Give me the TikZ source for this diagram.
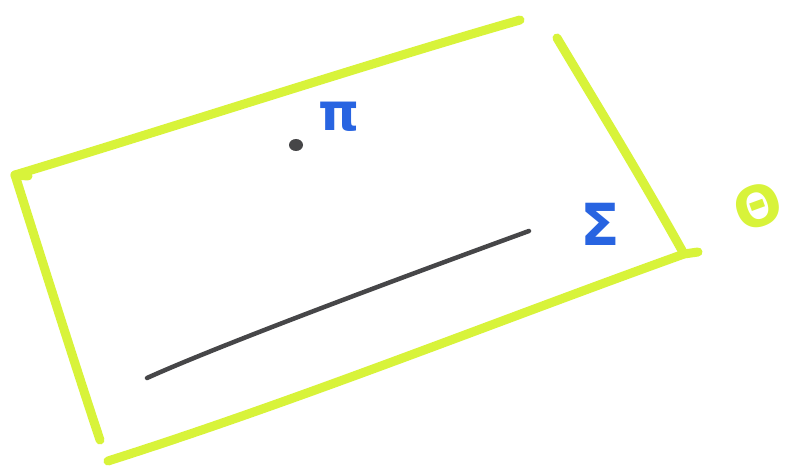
\documentclass[tikz,border=0pt]{standalone}
\usepackage{fontspec}
\setmainfont{DejaVu Sans}
\definecolor{hlgreen}{RGB}{216,243,58}
\definecolor{penblue}{RGB}{40,100,225}
\definecolor{pengray}{RGB}{70,70,72}
\tikzset{
  marker/.style={draw=hlgreen, line width=9pt, line cap=round, line join=round},
  pen/.style={draw=pengray, line width=4.5pt, line cap=round},
  bluelabel/.style={text=penblue, inner sep=0pt},
  greenlabel/.style={text=hlgreen, inner sep=0pt}
}
\begin{document}
\begin{tikzpicture}[x=1pt,y=-1pt]
\useasboundingbox (0,0) rectangle (792,468);
% corners of the sheet
\coordinate (tl) at (15,175);
\coordinate (tr) at (520,20);
\coordinate (rt) at (557,38);
\coordinate (br) at (684,254);
\coordinate (brx) at (698,252);
\coordinate (bl) at (108,461);
\coordinate (lb) at (100,440);
% edges
\draw[marker] (tl) .. controls (180,125) and (380,60) .. (tr);
\draw[marker] (rt) .. controls (600,110) and (640,175) .. (br);
\draw[marker] (brx) -- (br) .. controls (500,320) and (300,400) .. (bl);
\draw[marker] (tl) .. controls (45,270) and (80,380) .. (lb);
\draw[marker] (tl) -- (28,176);
% point and line
\fill[pengray] (296,145) ellipse (7pt and 6pt) coordinate (pt);
\coordinate (la) at (147,378);
\coordinate (lz) at (529,231);
\draw[pen] (la) .. controls (220,345) and (400,278) .. (lz);
% labels
\node[bluelabel, font=\fontsize{52}{60}\selectfont\bfseries] (pi) at (339,117) {π};
\node[bluelabel, font=\fontsize{58}{66}\selectfont\bfseries] (sigma) at (600,224) {Σ};
\node[greenlabel, font=\fontsize{56}{64}\selectfont\bfseries, rotate=20] (theta) at (758,206) {Θ};
\end{tikzpicture}
\end{document}
